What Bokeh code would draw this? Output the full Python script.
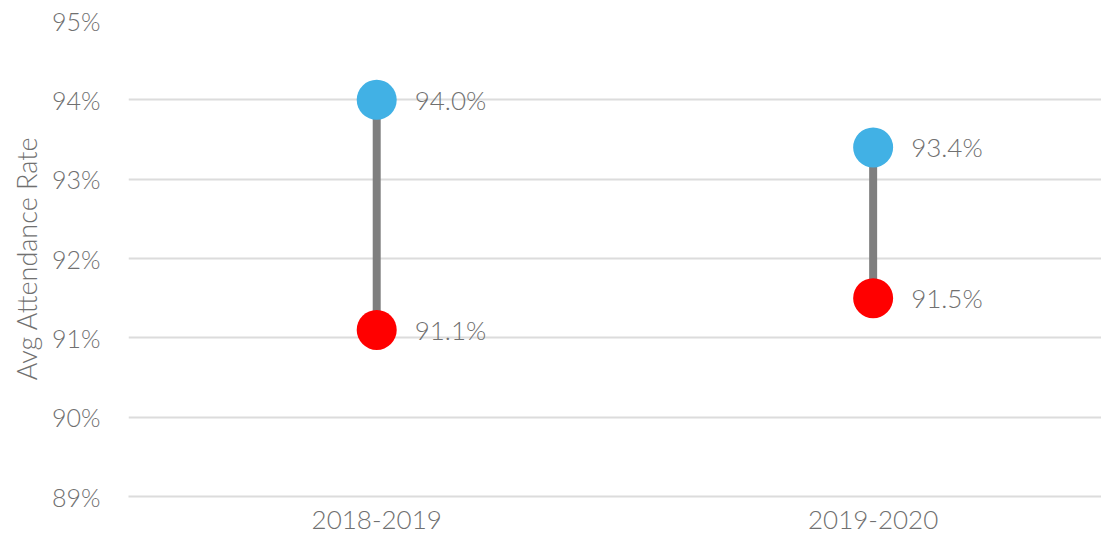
from bokeh.plotting import figure
from bokeh.models import Range1d, ColumnDataSource, FixedTicker, CustomJSTickFormatter
from bokeh.core.properties import value
from bokeh.embed import file_html
from bokeh.resources import INLINE

years = ["2018-2019", "2019-2020"]
high = [94.0, 93.4]
low = [91.1, 91.5]
y_ticks = [89, 90, 91, 92, 93, 94, 95]

FONT = "'Lato Light', Lato, sans-serif"
TXT = "#707070"

xpos = [i + 0.5 for i in range(len(years))]

p = figure(width=1101, height=537, x_range=Range1d(0, 1.96), y_range=Range1d(89, 95),
           output_backend="svg", toolbar_location=None,
           min_border_left=128, min_border_right=0, min_border_top=20, min_border_bottom=41)
p.outline_line_color = None

src = ColumnDataSource(dict(x=xpos, hi=high, lo=low,
                            hl=[f"{v:.1f}%" for v in high], ll=[f"{v:.1f}%" for v in low]))

p.segment(x0="x", y0="lo", x1="x", y1="hi", source=src, line_color="#7f7f7f", line_width=8)
p.scatter(x="x", y="hi", source=src, size=40, fill_color="#41b1e5", line_color=None)
p.scatter(x="x", y="lo", source=src, size=40, fill_color="#ff0000", line_color=None)
for col, ycol in (("hl", "hi"), ("ll", "lo")):
    p.text(x="x", y=ycol, text=col, source=src, x_offset=38, text_baseline="middle",
           text_align="left", text_font=value(FONT), text_font_size="26px", text_color=TXT)

p.xgrid.grid_line_color = None
p.ygrid.grid_line_color = "#dcdcdc"
p.ygrid.grid_line_width = 2
p.ygrid.ticker = FixedTicker(ticks=y_ticks)

p.yaxis.ticker = FixedTicker(ticks=y_ticks)
p.yaxis.formatter = CustomJSTickFormatter(code="return tick.toFixed(0) + '%';")
p.yaxis.axis_line_color = None
p.yaxis.major_tick_line_color = None
p.yaxis.minor_tick_line_color = None
p.yaxis.major_label_text_font = FONT
p.yaxis.major_label_text_font_size = "25px"
p.yaxis.major_label_text_color = TXT
p.yaxis.major_label_standoff = 22
p.yaxis.axis_label = "Avg Attendance Rate"
p.yaxis.axis_label_text_font = FONT
p.yaxis.axis_label_text_font_size = "27px"
p.yaxis.axis_label_text_font_style = "normal"
p.yaxis.axis_label_text_color = TXT
p.yaxis.axis_label_standoff = 6

p.xaxis.ticker = FixedTicker(ticks=xpos)
p.xaxis.major_label_overrides = {x: y for x, y in zip(xpos, years)}
p.xaxis.axis_line_color = "#dcdcdc"
p.xaxis.axis_line_width = 2
p.xaxis.major_tick_line_color = None
p.xaxis.minor_tick_line_color = None
p.xaxis.major_label_text_font = FONT
p.xaxis.major_label_text_font_size = "26px"
p.xaxis.major_label_text_color = TXT
p.xaxis.major_label_standoff = 8

open("out.html", "w").write(file_html(p, INLINE))
